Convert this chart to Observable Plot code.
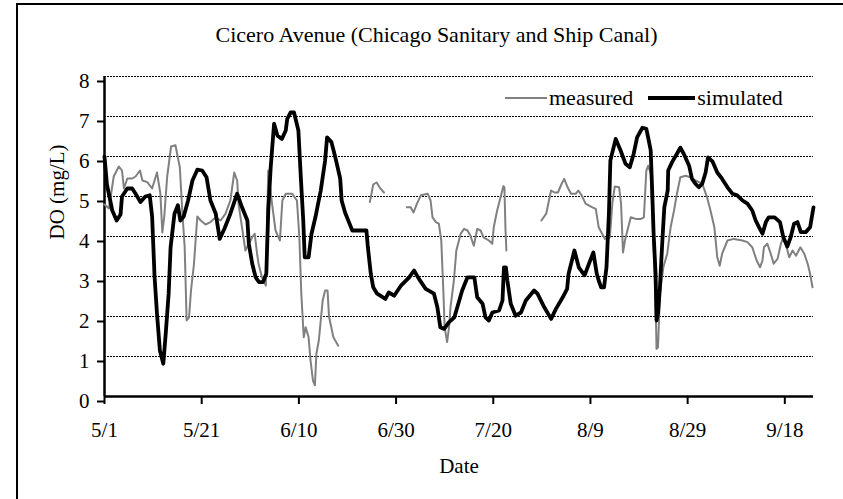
<!DOCTYPE html>
<html>
<head>
<meta charset="utf-8">
<script src="https://cdn.jsdelivr.net/npm/d3@7"></script>
<script src="https://cdn.jsdelivr.net/npm/@observablehq/plot@0.6"></script>
<style>
html, body { margin: 0; padding: 0; background: #fff; overflow: hidden; }
#wrap { position: relative; width: 843px; height: 499px; font-family: "Liberation Serif", "Times New Roman", Times, "DejaVu Serif", serif; color: #000; }
#wrap svg { position: absolute; left: 0; top: 0; }
#wrap svg text { font-family: "Liberation Serif", "Times New Roman", Times, "DejaVu Serif", serif !important; }
#frame { position: absolute; left: 16px; top: 3px; width: 900px; height: 600px; border-left: 2px solid #000; border-top: 2px solid #000; }
#title { position: absolute; left: 0; width: 873px; top: 24px; text-align: center; font-size: 22px; line-height: 22px; white-space: nowrap; }
#legend { position: absolute; left: 505px; top: 87px; height: 22px; display: flex; align-items: center; font-size: 22px; line-height: 22px; white-space: nowrap; }
.sw1 { display: inline-block; width: 42px; height: 2px; background: #808080; }
.sw2 { display: inline-block; width: 47px; height: 4px; background: #000; margin-left: 15px; }
.lt { margin-left: 2px; }
</style>
</head>
<body>
<div id="wrap">
  <div id="frame"></div>
  <div id="title">Cicero Avenue (Chicago Sanitary and Ship Canal)</div>
  <div id="legend"><span class="sw1"></span><span class="lt">measured</span><span class="sw2"></span><span class="lt">simulated</span></div>
</div>
<script>
// Days counted from May 1
const tickDays = [0, 20, 40, 60, 80, 100, 120, 140];
const tickLabels = ["5/1", "5/21", "6/10", "6/30", "7/20", "8/9", "8/29", "9/18"];
const yTicks = [0, 1, 2, 3, 4, 5, 6, 7, 8];
const xEnd = 145.9;

// simulated DO (mg/L)
const simDay = [0,0.5,1.6,2.5,3.3,3.6,4.7,5.7,6.4,7.4,8.4,9.3,9.8,10.3,10.8,11.4,12.1,12.6,13.2,13.6,14.4,15.1,15.6,16.3,17.2,18.1,19.1,20.1,21.0,21.8,22.9,23.7,24.7,25.9,27.3,28.3,29.4,29.7,30.4,31.1,31.8,32.6,33.3,33.7,34.2,34.9,35.6,36.5,37.3,37.6,38.3,39.0,39.9,40.4,40.9,41.2,42.0,42.6,43.4,44.5,45.4,45.8,46.7,47.5,48.5,48.8,49.5,50.3,51.0,53.9,54.2,54.8,55.3,56.1,57.8,58.5,59.6,61.0,62.7,63.7,64.7,66.1,67.8,68.5,69.1,69.9,70.9,72.0,72.6,73.6,74.7,76.1,76.7,77.8,78.4,79.1,79.8,81.2,81.9,82.2,82.6,82.9,83.6,84.6,85.7,86.7,88.4,89.1,90.5,91.9,92.9,94.3,95.2,95.5,96.7,97.6,98.8,99.7,100.6,101.3,101.7,102.2,102.8,103.3,103.8,104.1,105.2,106.2,107.2,108.1,108.9,109.6,110.7,111.5,112.0,112.4,112.7,113.0,113.4,113.6,113.9,114.3,114.8,115.2,115.9,116.0,116.8,117.8,118.5,119.2,120.3,120.9,121.6,122.3,123.0,123.7,124.2,125.1,126.1,127.1,128.2,129.2,130.2,131.3,132.3,133.3,134.0,134.7,135.4,136.1,136.7,137.9,139.0,139.7,140.5,141.2,141.9,142.6,143.3,144.3,145.2,145.9];
const simDO = [6.0,5.3,4.65,4.4,4.55,5.0,5.2,5.2,5.07,4.86,5.0,5.03,4.5,3.0,2.07,1.15,0.82,1.57,2.57,3.73,4.57,4.78,4.4,4.5,4.9,5.4,5.67,5.65,5.48,4.9,4.57,3.94,4.2,4.57,5.07,4.73,4.4,3.82,3.32,2.98,2.86,2.86,3.07,4.65,5.73,6.82,6.52,6.44,6.65,6.94,7.1,7.1,6.65,5.48,4.4,3.48,3.48,4.07,4.48,5.15,5.9,6.48,6.36,5.98,5.45,4.9,4.6,4.36,4.15,4.15,3.73,3.07,2.73,2.57,2.44,2.6,2.52,2.77,2.98,3.15,2.94,2.69,2.57,2.23,1.73,1.69,1.86,1.98,2.23,2.65,2.98,2.98,2.48,2.32,1.98,1.9,2.1,2.15,2.4,3.23,3.23,2.9,2.32,2.02,2.1,2.4,2.65,2.57,2.23,1.94,2.19,2.48,2.69,3.07,3.65,3.23,3.03,3.32,3.6,3.07,2.9,2.73,2.73,3.23,4.57,5.9,6.44,6.15,5.82,5.73,6.07,6.48,6.72,6.69,6.4,6.15,5.15,4.07,3.07,1.9,2.07,2.73,3.9,4.73,5.15,5.65,5.86,6.07,6.22,6.07,5.77,5.44,5.32,5.23,5.32,5.6,5.98,5.88,5.6,5.44,5.23,5.07,5.03,4.9,4.82,4.65,4.4,4.23,4.07,4.36,4.48,4.48,4.36,3.98,3.75,3.98,4.32,4.36,4.11,4.11,4.23,4.73];

// measured DO (mg/L); null marks a gap in the record
const measDay = [0,0.9,1.9,2.95,3.6,4.0,4.7,5.7,6.4,7.3,7.8,8.8,9.8,10.8,11.5,11.9,12.3,12.9,13.7,14.6,15.5,16.0,16.5,16.9,17.4,17.8,18.4,19.1,19.8,20.8,21.8,22.9,23.9,24.9,25.9,26.7,27.3,27.6,28.3,29.0,29.7,30.4,30.9,31.4,31.7,32.4,33.2,33.5,33.7,34.5,35.2,36.1,36.6,37.3,38.6,39.6,40.1,40.5,41.0,41.4,42.0,42.4,42.9,43.3,43.6,44.1,44.9,45.4,45.9,46.2,47.1,48.1,
  null,
  54.6,55.3,56.0,56.6,57.5,
  null,
  62.2,63.0,63.6,64.3,65.1,66.5,67.1,67.5,68.2,68.8,69.3,69.7,70.0,70.5,70.9,71.2,71.9,72.4,73.3,74.0,74.7,75.3,76.0,76.7,77.4,78.0,79.1,79.8,80.1,80.8,81.5,82.1,82.3,82.5,82.7,
  null,
  89.9,90.9,91.6,91.9,92.6,93.3,94.0,94.6,95.3,96.0,97.0,97.5,98.2,99.0,100.4,101.1,101.7,102.4,103.0,104.0,104.5,105.0,105.9,106.3,106.7,107.1,107.6,108.3,109.3,110.4,111.0,111.5,111.9,112.4,112.7,113.0,113.4,113.6,113.9,114.3,115.0,115.8,116.5,117.2,117.8,118.5,119.6,120.6,121.6,123.0,124.0,124.7,125.5,126.1,126.6,127.1,128.2,129.5,131.3,132.3,133.3,134.2,134.9,135.4,135.7,136.4,137.1,137.7,138.5,139.2,139.7,140.2,140.9,141.6,142.3,143.2,144.0,144.7,145.2,145.7];
const measDO = [4.8,4.7,5.5,5.75,5.65,5.2,5.45,5.45,5.5,5.65,5.4,5.36,5.2,5.6,5.07,4.1,4.5,5.5,6.25,6.28,5.73,4.65,3.73,1.9,1.98,2.65,3.3,4.5,4.4,4.3,4.36,4.48,4.4,4.57,4.9,5.6,5.4,4.8,4.23,3.65,3.82,3.98,4.07,3.57,3.32,2.98,2.77,4.57,5.65,4.8,4.15,3.9,4.9,5.07,5.07,4.9,3.98,2.57,1.48,1.73,1.48,0.9,0.4,0.28,1.07,1.4,2.4,2.65,2.65,2.0,1.48,1.27,
  null,
  4.86,5.3,5.35,5.23,5.1,
  null,
  4.73,4.73,4.6,4.82,5.03,5.07,4.9,4.48,4.36,4.32,3.9,2.73,1.73,1.36,1.73,2.23,2.9,3.65,4.07,4.19,4.15,4.02,3.77,4.19,4.15,3.98,3.9,3.82,4.23,4.65,4.98,5.26,5.23,4.23,3.65,
  null,
  4.4,4.57,4.98,5.15,5.1,5.1,5.3,5.44,5.23,5.07,5.07,5.15,5.03,4.82,4.73,4.69,4.23,4.07,3.94,3.98,4.82,5.25,5.23,4.82,3.6,3.9,4.15,4.48,4.44,4.44,4.48,5.65,5.77,5.57,4.73,3.73,2.4,1.19,1.23,2.57,3.23,3.57,4.23,4.65,5.07,5.48,5.52,5.48,5.4,5.32,4.98,4.65,4.23,3.48,3.27,3.57,3.9,3.94,3.9,3.86,3.73,3.4,3.23,3.4,3.73,3.82,3.57,3.32,3.44,3.82,3.98,3.82,3.48,3.65,3.52,3.73,3.57,3.32,3.07,2.73];

const simRows = simDay.map((d, i) => ({day: d, value: simDO[i]}));
const measRows = measDay.map((d, i) => ({day: d, value: measDO[i]}));
const fmtX = d => tickLabels[tickDays.indexOf(d)];

const chart = Plot.plot({
  width: 843,
  height: 499,
  marginLeft: 104,
  marginRight: 30,
  marginTop: 76,
  marginBottom: 103,
  style: {fontFamily: "'Liberation Serif', 'Times New Roman', Times, serif", fontSize: "21px", color: "#000", background: "transparent", overflow: "visible"},
  x: {domain: [0, xEnd], ticks: tickDays, tickFormat: fmtX},
  y: {domain: [0, 8], ticks: yTicks},
  marks: [
    Plot.gridY(yTicks.filter(v => v > 0), {stroke: "#000", strokeOpacity: 1, strokeWidth: 1, strokeDasharray: "2,1"}),
    Plot.axisY(yTicks, {tickSize: 7, tickPadding: 8, strokeWidth: 2, dy: 5, label: null, fontSize: 21}),
    Plot.axisX(tickDays, {tickSize: 8, tickPadding: 18, strokeWidth: 2, label: null, fontSize: 21, tickFormat: fmtX}),
    Plot.ruleX([0], {stroke: "#000", strokeWidth: 2.5}),
    Plot.ruleY([0], {stroke: "#000", strokeWidth: 2.5}),
    Plot.line(measRows, {x: "day", y: "value", stroke: "#808080", strokeWidth: 2, strokeLinejoin: "round"}),
    Plot.line(simRows, {x: "day", y: "value", stroke: "#000", strokeWidth: 3.8, strokeLinejoin: "round"}),
    Plot.text(["DO (mg/L)"], {frameAnchor: "left", dx: -47, dy: 3, rotate: -90, fontSize: 21}),
    Plot.text(["Date"], {frameAnchor: "bottom", dy: 76, fontSize: 21})
  ]
});
document.getElementById("wrap").insertBefore(chart, document.getElementById("frame"));
</script>
</body>
</html>
